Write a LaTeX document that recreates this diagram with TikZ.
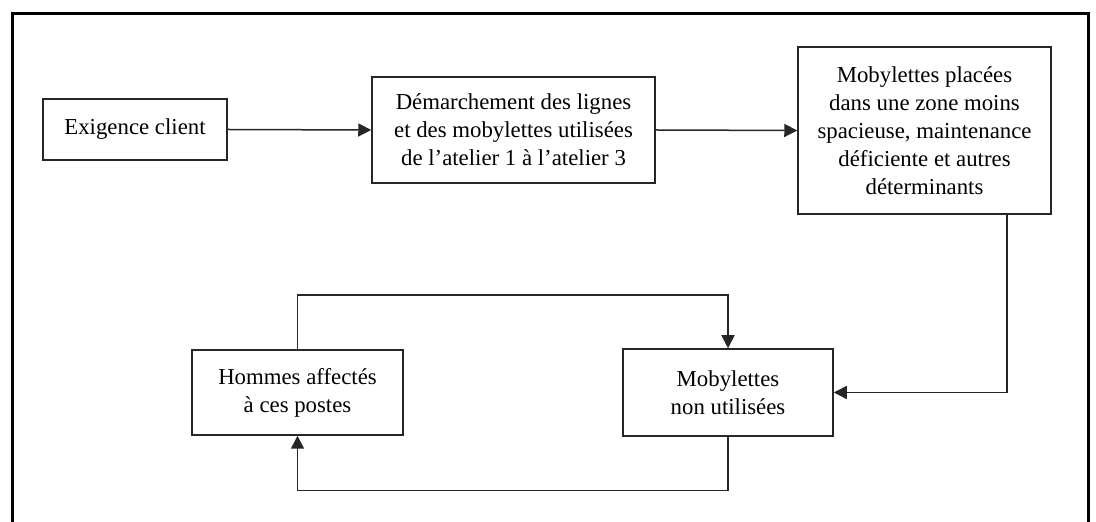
\documentclass[tikz,border=0pt]{standalone}
\usepackage{fontspec}
\setmainfont{Liberation Serif}
\usetikzlibrary{arrows.meta}
\begin{document}
\begin{tikzpicture}[x=0.5pt,y=-0.5pt,
  box/.style={draw=black!85, line width=0.75pt, inner sep=0pt, align=center,
    font={\fontsize{11.4}{14}\selectfont}},
  flow/.style={draw=black!85, line width=0.75pt, -{Triangle[length=6.5pt,width=6.5pt]}}]
\useasboundingbox (0,0) rectangle (1096,522);
% open frame around the chart
\draw[line width=1.5pt] (12,522) -- (12,14) -- (1088,14) -- (1088,522);
% boxes
\node[box, minimum width=92pt, minimum height=30.5pt] (b1) at (135,129.5) {Exigence client};
\node[box, minimum width=141.5pt, minimum height=53pt] (b2) at (513.5,130)
  {Démarchement des lignes\\et des mobylettes utilisées\\de l’atelier 1 à l’atelier 3};
\node[box, minimum width=126.5pt, minimum height=83.5pt] (b3) at (924.5,130.5)
  {Mobylettes placées\\dans une zone moins\\spacieuse, maintenance\\déficiente et autres\\déterminants};
\node[box, minimum width=105.5pt, minimum height=42.5pt] (b4) at (297.5,392.5)
  {Hommes affectés\\à ces postes};
\node[box, minimum width=105pt, minimum height=43.5pt] (b5) at (728,392.5)
  {Mobylettes\\non utilisées};
% connectors
\draw[flow] (b1.east) -- (b2.west);
\draw[flow] (b2.east) -- (b3.west);
\draw[flow] ([xshift=41.25pt]b3.south) |- (b5.east);
\draw[flow] (b4.north) -- ++(0,-54) -| (b5.north);
\draw[flow] (b5.south) -- ++(0,54) -| (b4.south);
\end{tikzpicture}
\end{document}
